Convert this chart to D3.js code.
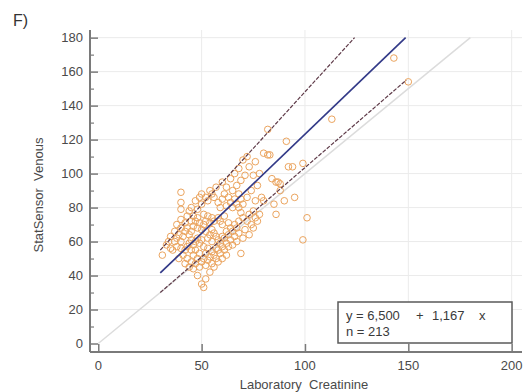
<!DOCTYPE html>
<html>
<head>
<meta charset="utf-8">
<script src="https://cdn.jsdelivr.net/npm/d3@7"></script>
<style>
body { margin: 0; background: #fff; }
text { font-family: "Liberation Sans", Arial, sans-serif; }
</style>
</head>
<body>
<div id="canvas_f"></div>
<script>
// ----------------------------------------------------------
// DATA -----------------------------------------------------
// ----------------------------------------------------------
// laboratory creatinine (x) / statsensor venous (y)
var lab_x = [
31,33,34,35,35,
36,37,37,38,38,38,39,39,40,40,40,40,40,40,40,
41,41,42,42,42,42,43,43,43,43,44,44,44,44,45,45,45,45,45,45,46,
46,46,46,46,47,47,47,47,47,48,48,48,48,48,48,49,49,49,49,49,50,50,50,50,50,50,
51,51,51,51,51,52,52,52,52,52,52,53,53,53,53,53,54,54,54,54,54,55,55,55,55,55,55,
56,56,56,56,56,57,57,57,57,58,58,58,58,58,59,59,59,59,60,60,60,60,60,60,
61,61,61,61,62,62,62,62,62,63,63,63,63,64,64,64,64,65,65,65,65,
66,66,66,66,67,67,67,67,68,68,68,68,68,69,69,69,69,70,70,70,70,
71,71,72,72,72,73,73,73,74,74,75,75,75,76,76,76,77,77,78,78,79,80,80,
82,82,83,84,85,86,86,87,88,88,90,91,92,94,95,99,99,101,113,143,150
];
var venous_y = [
52,58,60,56,63,
55,60,66,57,62,70,50,64,56,60,68,73,79,83,89,
52,63,47,55,66,71,50,57,68,75,45,59,64,78,48,55,61,66,72,80,44,
52,58,69,75,47,55,60,72,84,40,50,62,68,74,79,45,53,59,71,86,35,48,61,67,82,88,
33,50,57,70,76,38,46,53,66,72,86,49,56,62,75,84,42,51,64,71,90,47,54,60,67,74,88,
45,52,65,72,86,50,56,63,92,48,55,61,74,83,53,59,72,80,50,57,63,70,85,95,
55,62,75,88,52,59,66,81,92,57,64,71,86,61,68,83,97,58,66,80,90,
63,70,85,100,60,68,82,93,65,72,80,88,103,53,77,85,96,62,74,82,108,
67,99,72,86,110,64,76,104,70,90,68,78,99,74,84,107,72,93,76,100,86,84,112,
111,126,111,97,82,76,95,95,94,90,84,119,104,104,86,106,61,74,132,168,154
];
// fitted lines, drawn between end points [x, y]
var line_identity = [[0, 0], [180, 180]];
var line_regression = [[30, 41.5], [148.7, 180]];
var line_ci_upper = [[30, 55], [124, 180]];
var line_ci_lower = [[30, 30], [149, 155]];
// ticks
var ticks_x = [0, 50, 100, 150, 200];
var ticks_y = [0, 20, 40, 60, 80, 100, 120, 140, 160, 180];
var ticks_y_minor = [10, 30, 50, 70, 90, 110, 130, 150, 170];
// texts
var text_panel = "F)";
var text_axis_x = "Laboratory  Creatinine";
var text_axis_y = "StatSensor  Venous";
var text_legend_1 = ["y = 6,500", "+", "1,167", "x"];
var text_legend_2 = "n = 213";

// ----------------------------------------------------------
// STRUCTURE ------------------------------------------------
// ----------------------------------------------------------
var width_f = 528, height_f = 392;
var plot_left = 90, plot_top = 30, plot_right = 522, plot_bottom = 352;

var svg_f = d3.select("#canvas_f").append("svg")
.attr("width", width_f)
.attr("height", height_f)
.style("background-color", "#fff");

var xScale_f = d3.scaleLinear().domain([-4, 205]).range([plot_left, plot_right]);
var yScale_f = d3.scaleLinear().domain([-5, 184.5]).range([plot_bottom, plot_top]);

var grid_group = svg_f.append("g").attr("class", "grid");
var gfx_group = svg_f.append("g").attr("class", "gfx");
var axis_group = svg_f.append("g").attr("class", "axes");
var text_group = svg_f.append("g").attr("class", "texts");

// ----------------------------------------------------------
// GRID -----------------------------------------------------
// ----------------------------------------------------------
grid_group.selectAll(".gy").data(ticks_y.slice(1)).enter().append("line")
.attr("x1", plot_left).attr("x2", plot_right)
.attr("y1", function(d) { return yScale_f(d); })
.attr("y2", function(d) { return yScale_f(d); })
.style("stroke", "#ebebeb").style("stroke-width", 1);
grid_group.selectAll(".gx").data(ticks_x.slice(1)).enter().append("line")
.attr("y1", plot_top).attr("y2", plot_bottom)
.attr("x1", function(d) { return xScale_f(d); })
.attr("x2", function(d) { return xScale_f(d); })
.style("stroke", "#ebebeb").style("stroke-width", 1);

// ----------------------------------------------------------
// GFX ------------------------------------------------------
// ----------------------------------------------------------
var line_f = d3.line()
.x(function(d) { return xScale_f(d[0]); })
.y(function(d) { return yScale_f(d[1]); });

// identity line
gfx_group.append("path").attr("d", line_f(line_identity))
.style("fill", "none").style("stroke", "#dcdcdc").style("stroke-width", 1.5);

// points
var points_f = lab_x.map(function(d, i) { return [d, venous_y[i]]; });
gfx_group.selectAll("circle").data(points_f).enter().append("circle")
.attr("cx", function(d) { return xScale_f(d[0]); })
.attr("cy", function(d) { return yScale_f(d[1]); })
.attr("r", 3.3)
.style("fill", "none")
.style("stroke", "#eba45e")
.style("stroke-width", 1);

// confidence lines
[line_ci_upper, line_ci_lower].forEach(function(l) {
gfx_group.append("path").attr("d", line_f(l))
.style("fill", "none").style("stroke", "#5e3a48")
.style("stroke-width", 1.2).style("stroke-dasharray", "4,1.5");
});

// regression line
gfx_group.append("path").attr("d", line_f(line_regression))
.style("fill", "none").style("stroke", "#333a88").style("stroke-width", 1.7);

// ----------------------------------------------------------
// AXES -----------------------------------------------------
// ----------------------------------------------------------
axis_group.append("g")
.attr("transform", "translate(" + plot_left + ",0)")
.call(d3.axisRight(yScale_f).tickValues(ticks_y).tickSize(8).tickFormat(""))
.call(function(g) {
g.select(".domain").attr("d", "M0," + plot_top + "V" + plot_bottom)
.style("stroke", "#7a7a7a").style("stroke-width", 2);
g.selectAll(".tick line").style("stroke", "#7a7a7a").style("stroke-width", 1.5);
});
axis_group.append("g")
.attr("transform", "translate(" + plot_left + ",0)")
.call(d3.axisRight(yScale_f).tickValues(ticks_y_minor).tickSize(4).tickFormat(""))
.call(function(g) {
g.select(".domain").remove();
g.selectAll(".tick line").style("stroke", "#7a7a7a").style("stroke-width", 1.2);
});
axis_group.append("g")
.attr("transform", "translate(0," + plot_bottom + ")")
.call(d3.axisTop(xScale_f).tickValues(ticks_x).tickSize(8).tickFormat(""))
.call(function(g) {
g.select(".domain").attr("d", "M" + plot_left + ",0H" + plot_right)
.style("stroke", "#7a7a7a").style("stroke-width", 2);
g.selectAll(".tick line").style("stroke", "#7a7a7a").style("stroke-width", 1.5);
});

// tick labels
axis_group.selectAll(".ly").data(ticks_y).enter().append("text")
.attr("x", 83)
.attr("y", function(d) { return yScale_f(d) + 4.5; })
.attr("text-anchor", "end")
.style("font-size", "13px").style("fill", "#4a4a4a")
.text(function(d) { return d; });
axis_group.selectAll(".lx").data(ticks_x).enter().append("text")
.attr("x", function(d) { return xScale_f(d); })
.attr("y", 370)
.attr("text-anchor", "middle")
.style("font-size", "13px").style("fill", "#4a4a4a")
.text(function(d) { return d; });

// ----------------------------------------------------------
// TEXT -----------------------------------------------------
// ----------------------------------------------------------
text_group.append("text")
.attr("x", 13).attr("y", 26)
.style("font-size", "16px").style("fill", "#333")
.text(text_panel);
text_group.append("text")
.attr("x", 304).attr("y", 389)
.attr("text-anchor", "middle")
.style("font-size", "13px").style("fill", "#4a4a4a").style("white-space", "pre")
.text(text_axis_x);
text_group.append("text")
.attr("transform", "translate(43,195) rotate(-90)")
.attr("text-anchor", "middle")
.style("font-size", "13px").style("fill", "#4a4a4a").style("white-space", "pre")
.text(text_axis_y);

// legend box
text_group.append("rect")
.attr("x", 338).attr("y", 302).attr("width", 174).attr("height", 41)
.style("fill", "#fff").style("stroke", "#5a5a5a").style("stroke-width", 1.5);
var legend_x = [346, 416, 432, 479];
text_group.selectAll(".leg").data(text_legend_1).enter().append("text")
.attr("x", function(d, i) { return legend_x[i]; })
.attr("y", 320)
.style("font-size", "13px").style("fill", "#3a3a3a")
.text(function(d) { return d; });
text_group.append("text")
.attr("x", 346).attr("y", 336)
.style("font-size", "13px").style("fill", "#3a3a3a")
.text(text_legend_2);
</script>
</body>
</html>
